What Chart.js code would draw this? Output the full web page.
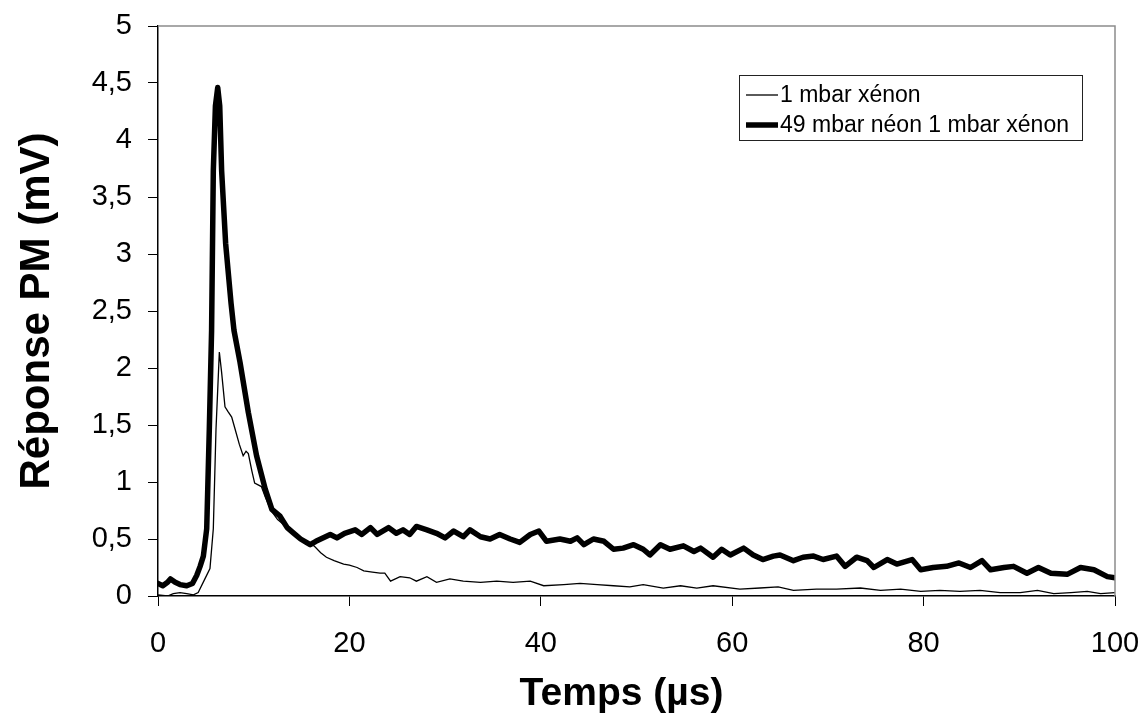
<!DOCTYPE html>
<html>
<head>
<meta charset="utf-8">
<script src="https://cdn.jsdelivr.net/npm/chart.js@4/dist/chart.umd.min.js"></script>
<style>html,body{margin:0;background:#fff}</style>
</head>
<body>
<canvas id="pmChart" width="1142" height="713"></canvas>
<script>
// 49 mbar néon + 1 mbar xénon (thick trace)
const timeNeXe = [0, 0.5, 1.0, 1.3, 1.8, 2.3, 3.0, 3.6, 4.04, 4.4, 4.74, 5.09, 5.36, 5.6, 5.78, 6.0, 6.24, 6.45, 6.65, 7.07, 7.63, 7.94, 8.57, 9.44, 10.3, 11.2, 11.9, 12.75, 13.5, 14.2, 14.9, 15.5, 15.9, 16.5, 17.0, 17.5, 18.0, 18.7, 19.5, 20.6, 21.3, 22.2, 22.9, 24.1, 24.9, 25.6, 26.3, 27.0, 28.1, 29.1, 30.0, 30.9, 31.9, 32.6, 33.7, 34.7, 35.7, 36.8, 37.8, 38.9, 39.8, 40.6, 42.0, 43.1, 43.8, 44.5, 45.5, 46.6, 47.6, 48.6, 49.7, 50.7, 51.4, 52.5, 53.5, 54.9, 56.0, 56.7, 58.0, 58.9, 59.8, 61.2, 62.2, 63.2, 64.3, 65.0, 66.4, 67.4, 68.5, 69.5, 70.9, 71.8, 73.0, 74.1, 74.8, 76.2, 77.2, 78.8, 79.7, 81.0, 82.4, 83.7, 84.9, 86.1, 87.0, 88.4, 89.4, 90.8, 92.0, 93.3, 95.0, 96.4, 97.8, 99.2, 100];
const valNeXe = [0.11, 0.09, 0.12, 0.15, 0.12, 0.10, 0.09, 0.11, 0.18, 0.26, 0.35, 0.59, 1.46, 2.33, 3.73, 4.3, 4.46, 4.3, 3.73, 3.09, 2.57, 2.33, 2.05, 1.61, 1.23, 0.94, 0.76, 0.70, 0.6, 0.55, 0.5, 0.47, 0.45, 0.48, 0.5, 0.52, 0.54, 0.51, 0.55, 0.58, 0.54, 0.6, 0.54, 0.6, 0.55, 0.58, 0.54, 0.61, 0.58, 0.55, 0.51, 0.57, 0.52, 0.58, 0.52, 0.5, 0.54, 0.5, 0.47, 0.54, 0.57, 0.48, 0.5, 0.48, 0.51, 0.45, 0.5, 0.48, 0.41, 0.42, 0.45, 0.41, 0.36, 0.45, 0.41, 0.44, 0.39, 0.42, 0.34, 0.41, 0.36, 0.42, 0.36, 0.32, 0.35, 0.36, 0.31, 0.34, 0.35, 0.32, 0.35, 0.26, 0.34, 0.31, 0.25, 0.32, 0.28, 0.32, 0.23, 0.25, 0.26, 0.29, 0.25, 0.31, 0.23, 0.25, 0.26, 0.2, 0.25, 0.2, 0.19, 0.25, 0.23, 0.17, 0.16];

// 1 mbar xénon (thin trace)
const timeXe = [0, 1.0, 1.6, 2.3, 3.0, 3.7, 4.2, 4.9, 5.43, 5.78, 6.06, 6.41, 6.65, 7.0, 7.3, 7.7, 8.0, 8.5, 8.9, 9.2, 9.44, 9.8, 10.1, 10.8, 11.2, 11.8, 12.5, 13.5, 14.9, 15.6, 16.3, 17.0, 17.6, 18.4, 19.4, 20.0, 20.8, 21.5, 22.4, 23.2, 23.7, 24.3, 25.3, 26.3, 27.0, 28.1, 29.1, 30.5, 31.9, 33.7, 35.4, 37.1, 38.9, 40.3, 42.4, 44.1, 45.9, 47.6, 49.3, 50.7, 52.8, 54.6, 56.3, 58.0, 60.8, 62.9, 64.8, 66.4, 68.8, 70.9, 73.4, 75.5, 77.6, 79.7, 81.7, 83.8, 85.9, 88.0, 90.1, 91.9, 93.6, 95.4, 97.1, 98.5, 100];
const valXe = [0.01, 0.0, 0.02, 0.03, 0.02, 0.01, 0.03, 0.15, 0.24, 0.59, 1.46, 2.14, 1.96, 1.66, 1.62, 1.57, 1.48, 1.33, 1.23, 1.27, 1.25, 1.1, 0.99, 0.96, 0.87, 0.75, 0.67, 0.6, 0.49, 0.46, 0.44, 0.38, 0.34, 0.31, 0.28, 0.27, 0.25, 0.22, 0.21, 0.2, 0.2, 0.13, 0.17, 0.16, 0.13, 0.17, 0.12, 0.15, 0.13, 0.12, 0.13, 0.12, 0.13, 0.09, 0.1, 0.11, 0.1, 0.09, 0.08, 0.1, 0.07, 0.09, 0.07, 0.09, 0.06, 0.07, 0.08, 0.05, 0.06, 0.06, 0.07, 0.05, 0.06, 0.04, 0.05, 0.04, 0.05, 0.03, 0.03, 0.05, 0.02, 0.03, 0.04, 0.02, 0.03];

const seriesLabels = ['1 mbar xénon', '49 mbar néon 1 mbar xénon'];
const xTitle = 'Temps (µs)';
const yTitle = 'Réponse PM (mV)';

const FONT = "'Liberation Sans', Arial, sans-serif";

function toPoints(xs, ys) {
    return xs.map((x, i) => ({ x: x, y: ys[i] }));
}

// grey frame on top/right of plot area, boxed legend inside, x title (sits a bit left of centre)
const frameAndLegend = {
    id: 'frameAndLegend',
    afterDraw(chart) {
        const { ctx, chartArea: a } = chart;
        ctx.save();
        ctx.strokeStyle = '#8c8c8c';
        ctx.lineWidth = 1.5;
        ctx.beginPath();
        ctx.moveTo(a.left, a.top);
        ctx.lineTo(a.right, a.top);
        ctx.lineTo(a.right, a.bottom);
        ctx.stroke();

        const bx = 739, by = 75, bw = 343, bh = 65;
        ctx.fillStyle = '#fff';
        ctx.fillRect(bx, by, bw, bh);
        ctx.strokeStyle = '#222';
        ctx.lineWidth = 1;
        ctx.strokeRect(bx + 0.5, by + 0.5, bw, bh);

        ctx.font = '23px ' + FONT;
        ctx.textBaseline = 'middle';
        ctx.fillStyle = '#000';
        const rows = [95, 125];
        chart.data.datasets.forEach((ds, i) => {
            ctx.strokeStyle = ds.borderColor;
            ctx.lineWidth = ds.borderWidth;
            ctx.beginPath();
            ctx.moveTo(746, rows[i]);
            ctx.lineTo(778, rows[i]);
            ctx.stroke();
            ctx.fillText(ds.label, 780, rows[i] + 1);
        });

        ctx.font = 'bold 39px ' + FONT;
        ctx.textAlign = 'center';
        ctx.textBaseline = 'alphabetic';
        ctx.fillText(xTitle, 621.5, 705);
        ctx.restore();
    }
};

const ctx = document.getElementById('pmChart').getContext('2d');

let pmChart = new Chart(ctx, {
    type: 'line',
    data: {
        datasets: [{
            label: seriesLabels[0],
            data: toPoints(timeXe, valXe),
            borderColor: '#000',
            borderWidth: 1.3,
            pointRadius: 0,
            fill: false,
            tension: 0
        }, {
            label: seriesLabels[1],
            data: toPoints(timeNeXe, valNeXe),
            borderColor: '#000',
            borderWidth: 5.5,
            borderJoinStyle: 'round',
            borderCapStyle: 'round',
            pointRadius: 0,
            fill: false,
            tension: 0
        }]
    },
    options: {
        responsive: false,
        animation: false,
        devicePixelRatio: 1,
        layout: { autoPadding: false, padding: { top: 26, right: 27, bottom: 0, left: 0 } },
        plugins: {
            legend: { display: false },
            tooltip: { enabled: false }
        },
        scales: {
            x: {
                type: 'linear',
                min: 0,
                max: 100,
                afterFit(scale) {
                    scale.height = 117;
                    scale.paddingLeft = 0;
                    scale.paddingRight = 0;
                },
                ticks: {
                    stepSize: 20,
                    padding: 21,
                    color: '#000',
                    font: { family: FONT, size: 29 }
                },
                grid: {
                    drawOnChartArea: false,
                    tickLength: 10,
                    color: '#000',
                    tickColor: '#000'
                },
                border: { color: '#000', width: 1.5 },
                title: { display: false }
            },
            y: {
                min: 0,
                max: 5,
                afterFit(scale) {
                    scale.width = 158;
                    scale.paddingTop = 0;
                    scale.paddingBottom = 0;
                },
                ticks: {
                    stepSize: 0.5,
                    padding: 16,
                    color: '#000',
                    font: { family: FONT, size: 29 },
                    callback: (v) => String(v).replace('.', ',')
                },
                grid: {
                    drawOnChartArea: false,
                    tickLength: 10,
                    color: '#000',
                    tickColor: '#000'
                },
                border: { color: '#000', width: 1.5 },
                title: {
                    display: true,
                    text: yTitle,
                    color: '#000',
                    padding: { top: 12, bottom: 0 },
                    font: { family: FONT, size: 42, weight: 'bold' }
                }
            }
        }
    },
    plugins: [frameAndLegend]
});
</script>
</body>
</html>
